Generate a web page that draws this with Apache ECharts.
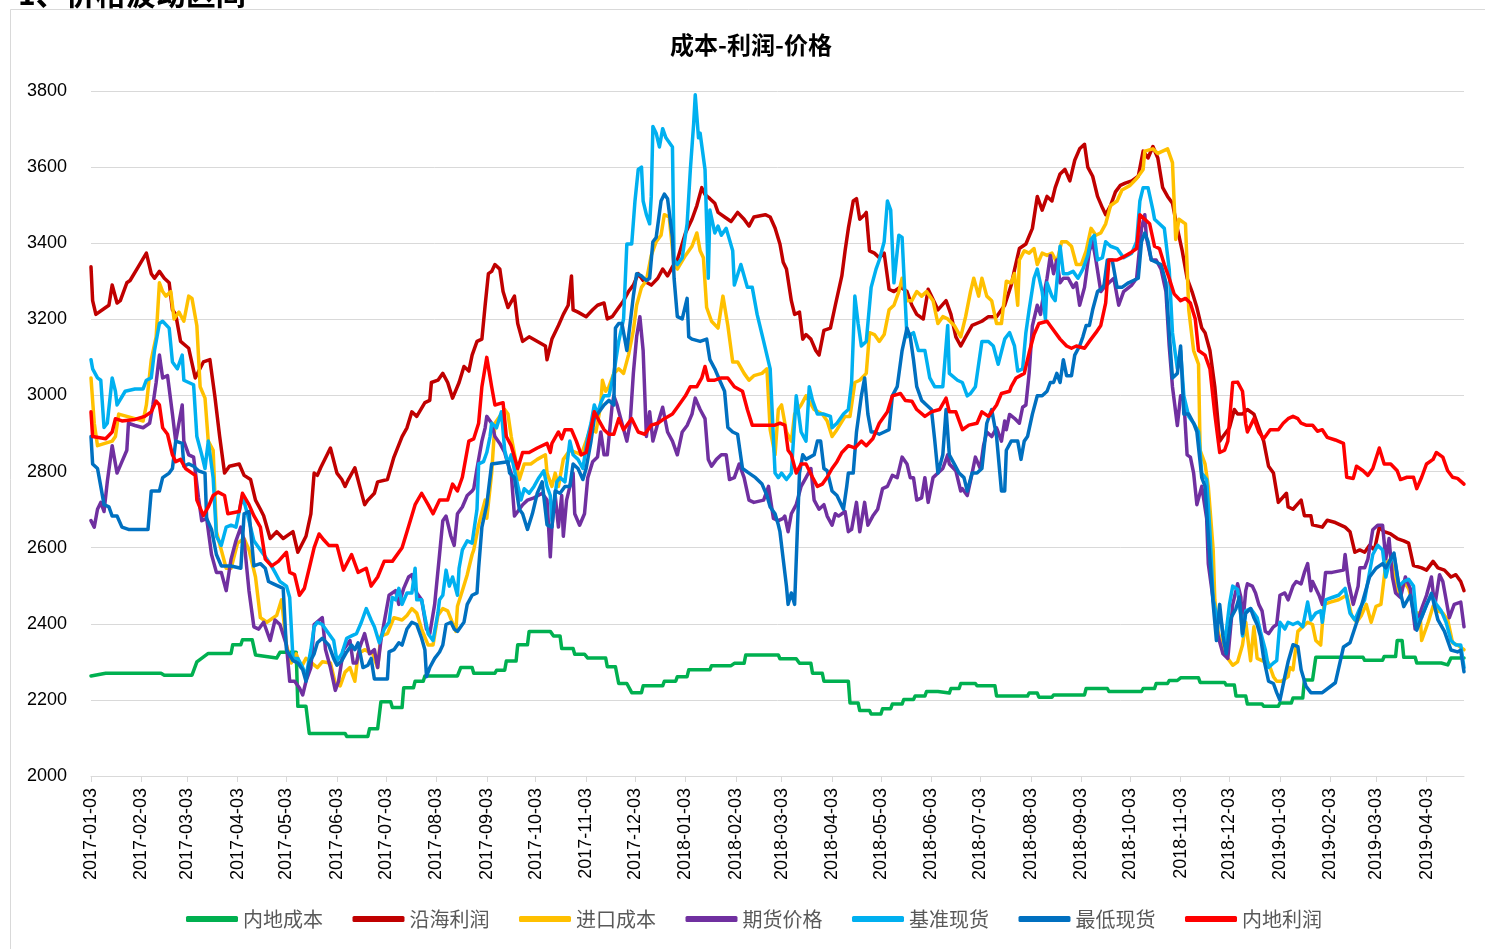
<!DOCTYPE html>
<html><head><meta charset="utf-8">
<script src="https://cdn.jsdelivr.net/npm/echarts@6/dist/echarts.min.js"></script>
<style>html,body{margin:0;padding:0;background:#fff}#c{width:1485px;height:949px}</style>
</head><body><div id="c"></div>
<script>
const seriesNames = ['内地成本','沿海利润','进口成本','期货价格','基准现货','最低现货','内地利润'];
const seriesColors = ['#00B050','#C00000','#FFC000','#7030A0','#00B0F0','#0070C0','#FF0000'];
const firstDay = '2017-01-03', lastDay = '2019-04-26';
const yTicks = {min: 2000, max: 3800, step: 200};

const inlandCost = [['2017-01-03',2263],['2017-01-12',2270],['2017-02-15',2270],['2017-02-17',2265],['2017-03-06',2265],['2017-03-09',2300],['2017-03-16',2322],['2017-03-30',2322],['2017-03-31',2345],['2017-04-05',2345],['2017-04-06',2358],['2017-04-12',2358],['2017-04-14',2318],['2017-04-27',2310],['2017-04-29',2325],['2017-05-09',2325],['2017-05-10',2183],['2017-05-15',2183],['2017-05-17',2112],['2017-06-08',2112],['2017-06-09',2104],['2017-06-22',2104],['2017-06-23',2124],['2017-06-28',2124],['2017-06-30',2195],['2017-07-06',2195],['2017-07-07',2180],['2017-07-13',2180],['2017-07-14',2232],['2017-07-20',2232],['2017-07-21',2249],['2017-07-26',2249],['2017-07-27',2263],['2017-08-16',2263],['2017-08-18',2285],['2017-08-25',2285],['2017-08-26',2270],['2017-09-08',2270],['2017-09-09',2278],['2017-09-14',2278],['2017-09-15',2302],['2017-09-21',2302],['2017-09-22',2345],['2017-09-28',2345],['2017-09-29',2380],['2017-10-12',2380],['2017-10-14',2368],['2017-10-18',2368],['2017-10-19',2335],['2017-10-26',2335],['2017-10-27',2320],['2017-11-02',2320],['2017-11-04',2310],['2017-11-15',2310],['2017-11-16',2287],['2017-11-21',2287],['2017-11-23',2243],['2017-11-28',2243],['2017-12-01',2219],['2017-12-07',2219],['2017-12-08',2237],['2017-12-20',2237],['2017-12-21',2249],['2017-12-28',2249],['2017-12-29',2261],['2018-01-04',2261],['2018-01-05',2279],['2018-01-18',2279],['2018-01-19',2290],['2018-01-31',2290],['2018-02-02',2296],['2018-02-08',2296],['2018-02-09',2318],['2018-03-01',2318],['2018-03-02',2308],['2018-03-12',2308],['2018-03-14',2296],['2018-03-21',2296],['2018-03-22',2270],['2018-03-28',2270],['2018-03-29',2249],['2018-04-13',2249],['2018-04-14',2192],['2018-04-19',2192],['2018-04-20',2172],['2018-04-26',2172],['2018-04-27',2163],['2018-05-03',2163],['2018-05-04',2177],['2018-05-09',2177],['2018-05-10',2189],['2018-05-16',2189],['2018-05-17',2201],['2018-05-23',2201],['2018-05-24',2210],['2018-05-30',2210],['2018-05-31',2222],['2018-06-07',2222],['2018-06-08',2218],['2018-06-14',2218],['2018-06-15',2230],['2018-06-20',2230],['2018-06-21',2243],['2018-06-30',2243],['2018-07-01',2237],['2018-07-12',2237],['2018-07-13',2210],['2018-08-01',2210],['2018-08-02',2218],['2018-08-07',2218],['2018-08-08',2207],['2018-08-16',2207],['2018-08-17',2213],['2018-09-05',2213],['2018-09-06',2230],['2018-09-19',2230],['2018-09-20',2222],['2018-10-10',2222],['2018-10-11',2230],['2018-10-18',2230],['2018-10-19',2243],['2018-10-26',2243],['2018-10-27',2251],['2018-11-01',2251],['2018-11-03',2258],['2018-11-14',2258],['2018-11-15',2246],['2018-11-30',2246],['2018-12-01',2239],['2018-12-06',2239],['2018-12-07',2210],['2018-12-13',2210],['2018-12-14',2189],['2018-12-23',2189],['2018-12-24',2183],['2019-01-02',2183],['2019-01-03',2192],['2019-01-10',2192],['2019-01-11',2205],['2019-01-17',2205],['2019-01-18',2252],['2019-01-23',2252],['2019-01-25',2312],['2019-02-23',2312],['2019-02-24',2304],['2019-03-07',2304],['2019-03-08',2314],['2019-03-15',2314],['2019-03-16',2356],['2019-03-19',2356],['2019-03-20',2312],['2019-03-27',2312],['2019-03-28',2297],['2019-04-12',2297],['2019-04-13',2292],['2019-04-16',2292],['2019-04-18',2310],['2019-04-26',2310]];

const coastalProfit = [['2017-01-03',3338],['2017-01-04',3249],['2017-01-06',3213],['2017-01-12',3231],['2017-01-14',3237],['2017-01-16',3290],['2017-01-19',3243],['2017-01-21',3249],['2017-01-25',3296],['2017-01-27',3302],['2017-02-01',3338],['2017-02-06',3374],['2017-02-09',3320],['2017-02-11',3308],['2017-02-14',3326],['2017-02-17',3308],['2017-02-20',3296],['2017-02-22',3225],['2017-02-24',3213],['2017-02-27',3142],['2017-03-04',3124],['2017-03-08',3046],['2017-03-13',3088],['2017-03-17',3094],['2017-03-20',2999],['2017-03-23',2892],['2017-03-26',2796],['2017-03-29',2814],['2017-04-04',2820],['2017-04-07',2790],['2017-04-11',2779],['2017-04-14',2725],['2017-04-17',2701],['2017-04-19',2684],['2017-04-23',2624],['2017-04-27',2642],['2017-05-01',2624],['2017-05-07',2642],['2017-05-10',2588],['2017-05-15',2630],['2017-05-18',2689],['2017-05-20',2796],['2017-05-22',2790],['2017-05-24',2810],['2017-05-30',2862],['2017-06-03',2796],['2017-06-06',2779],['2017-06-08',2761],['2017-06-10',2779],['2017-06-14',2810],['2017-06-17',2761],['2017-06-20',2713],['2017-06-22',2725],['2017-06-26',2743],['2017-06-28',2773],['2017-07-04',2779],['2017-07-08',2838],['2017-07-13',2892],['2017-07-16',2915],['2017-07-19',2957],['2017-07-22',2945],['2017-07-27',2981],['2017-07-30',2987],['2017-07-31',3034],['2017-08-04',3040],['2017-08-07',3058],['2017-08-10',3034],['2017-08-13',2993],['2017-08-17',3034],['2017-08-20',3076],['2017-08-23',3064],['2017-08-25',3106],['2017-08-28',3142],['2017-08-31',3148],['2017-09-02',3237],['2017-09-04',3320],['2017-09-06',3326],['2017-09-08',3344],['2017-09-11',3332],['2017-09-13',3273],['2017-09-16',3231],['2017-09-20',3261],['2017-09-22',3189],['2017-09-25',3142],['2017-09-29',3154],['2017-10-09',3130],['2017-10-10',3094],['2017-10-13',3148],['2017-10-17',3184],['2017-10-20',3213],['2017-10-23',3237],['2017-10-25',3314],['2017-10-26',3225],['2017-10-29',3219],['2017-11-03',3207],['2017-11-07',3225],['2017-11-10',3237],['2017-11-14',3243],['2017-11-16',3201],['2017-11-19',3207],['2017-11-23',3231],['2017-11-26',3249],['2017-11-29',3273],['2017-12-02',3290],['2017-12-05',3320],['2017-12-08',3302],['2017-12-13',3290],['2017-12-17',3308],['2017-12-20',3332],['2017-12-23',3314],['2017-12-26',3338],['2017-12-29',3356],['2018-01-03',3427],['2018-01-07',3463],['2018-01-10',3499],['2018-01-13',3546],['2018-01-15',3528],['2018-01-18',3517],['2018-01-21',3505],['2018-01-23',3481],['2018-01-27',3469],['2018-01-31',3457],['2018-02-04',3481],['2018-02-08',3463],['2018-02-11',3445],['2018-02-14',3469],['2018-02-21',3475],['2018-02-24',3469],['2018-02-27',3440],['2018-03-02',3398],['2018-03-04',3350],['2018-03-06',3332],['2018-03-09',3249],['2018-03-11',3213],['2018-03-14',3219],['2018-03-16',3148],['2018-03-18',3160],['2018-03-21',3148],['2018-03-24',3118],['2018-03-26',3106],['2018-03-29',3171],['2018-04-02',3177],['2018-04-05',3237],['2018-04-09',3314],['2018-04-11',3380],['2018-04-13',3439],['2018-04-16',3511],['2018-04-18',3517],['2018-04-20',3463],['2018-04-23',3475],['2018-04-24',3481],['2018-04-26',3380],['2018-04-29',3374],['2018-05-02',3362],['2018-05-05',3374],['2018-05-08',3279],['2018-05-11',3273],['2018-05-15',3285],['2018-05-19',3273],['2018-05-22',3237],['2018-05-25',3213],['2018-05-29',3201],['2018-06-01',3279],['2018-06-03',3261],['2018-06-07',3225],['2018-06-12',3249],['2018-06-15',3213],['2018-06-18',3154],['2018-06-21',3130],['2018-06-24',3154],['2018-06-28',3184],['2018-07-04',3195],['2018-07-08',3207],['2018-07-13',3207],['2018-07-18',3237],['2018-07-22',3290],['2018-07-24',3330],['2018-07-27',3386],['2018-07-31',3398],['2018-08-04',3439],['2018-08-07',3523],['2018-08-10',3487],['2018-08-13',3523],['2018-08-16',3511],['2018-08-18',3546],['2018-08-21',3582],['2018-08-24',3594],['2018-08-27',3564],['2018-08-30',3618],['2018-09-02',3648],['2018-09-05',3660],['2018-09-07',3600],['2018-09-10',3576],['2018-09-13',3523],['2018-09-16',3493],['2018-09-18',3475],['2018-09-21',3499],['2018-09-24',3535],['2018-09-27',3552],['2018-09-30',3558],['2018-10-04',3564],['2018-10-08',3576],['2018-10-11',3642],['2018-10-14',3624],['2018-10-17',3654],['2018-10-20',3624],['2018-10-23',3546],['2018-10-26',3523],['2018-10-29',3505],['2018-11-01',3439],['2018-11-04',3380],['2018-11-07',3308],['2018-11-10',3273],['2018-11-13',3231],['2018-11-16',3177],['2018-11-18',3165],['2018-11-21',3118],['2018-11-24',3023],['2018-11-27',2880],['2018-11-29',2892],['2018-12-03',2915],['2018-12-06',2963],['2018-12-08',2951],['2018-12-11',2951],['2018-12-14',2963],['2018-12-18',2951],['2018-12-21',2915],['2018-12-24',2880],['2018-12-27',2814],['2018-12-30',2796],['2019-01-02',2719],['2019-01-07',2743],['2019-01-08',2707],['2019-01-11',2701],['2019-01-16',2725],['2019-01-18',2684],['2019-01-22',2684],['2019-01-23',2660],['2019-01-29',2654],['2019-02-01',2672],['2019-02-06',2666],['2019-02-12',2654],['2019-02-15',2642],['2019-02-18',2588],['2019-02-21',2594],['2019-02-24',2588],['2019-02-27',2606],['2019-03-02',2594],['2019-03-05',2654],['2019-03-08',2642],['2019-03-12',2636],['2019-03-16',2624],['2019-03-20',2618],['2019-03-23',2612],['2019-03-26',2553],['2019-03-31',2547],['2019-04-03',2541],['2019-04-07',2564],['2019-04-10',2547],['2019-04-14',2541],['2019-04-18',2523],['2019-04-21',2529],['2019-04-24',2511],['2019-04-26',2487]];

const importCost = [['2017-01-03',3046],['2017-01-05',2927],['2017-01-07',2868],['2017-01-16',2880],['2017-01-18',2892],['2017-01-20',2951],['2017-01-30',2939],['2017-02-04',2933],['2017-02-06',2975],['2017-02-09',3094],['2017-02-12',3154],['2017-02-14',3296],['2017-02-16',3273],['2017-02-18',3261],['2017-02-21',3273],['2017-02-23',3201],['2017-02-26',3219],['2017-03-01',3195],['2017-03-04',3261],['2017-03-06',3255],['2017-03-09',3183],['2017-03-11',3023],['2017-03-14',2993],['2017-03-16',2880],['2017-03-19',2856],['2017-03-21',2642],['2017-03-24',2594],['2017-03-27',2546],['2017-03-30',2546],['2017-04-03',2612],['2017-04-07',2624],['2017-04-10',2594],['2017-04-14',2523],['2017-04-17',2416],['2017-04-21',2404],['2017-04-27',2422],['2017-04-30',2463],['2017-05-03',2344],['2017-05-06',2297],['2017-05-09',2321],['2017-05-12',2285],['2017-05-15',2309],['2017-05-22',2285],['2017-05-25',2300],['2017-05-30',2297],['2017-06-02',2243],['2017-06-05',2237],['2017-06-08',2273],['2017-06-11',2285],['2017-06-14',2249],['2017-06-16',2321],['2017-06-20',2332],['2017-06-25',2321],['2017-06-28',2285],['2017-06-30',2368],['2017-07-04',2374],['2017-07-08',2416],['2017-07-13',2410],['2017-07-16',2422],['2017-07-19',2440],['2017-07-22',2428],['2017-07-25',2386],['2017-07-29',2344],['2017-08-01',2344],['2017-08-04',2422],['2017-08-07',2440],['2017-08-10',2434],['2017-08-15',2380],['2017-08-16',2446],['2017-08-19',2487],['2017-08-22',2529],['2017-08-25',2582],['2017-08-26',2594],['2017-08-29',2660],['2017-09-02',2725],['2017-09-03',2677],['2017-09-06',2796],['2017-09-08',2927],['2017-09-11',2945],['2017-09-14',2963],['2017-09-16',2951],['2017-09-18',2892],['2017-09-23',2779],['2017-09-26',2820],['2017-09-30',2820],['2017-10-04',2832],['2017-10-09',2844],['2017-10-10',2796],['2017-10-13',2761],['2017-10-15',2796],['2017-10-17',2761],['2017-10-20',2832],['2017-10-24',2856],['2017-10-28',2850],['2017-10-31',2844],['2017-11-03',2880],['2017-11-06',2916],['2017-11-09',2904],['2017-11-12',2975],['2017-11-13',3040],['2017-11-15',3011],['2017-11-17',3023],['2017-11-20',3058],['2017-11-23',3070],['2017-11-26',3058],['2017-11-29',3106],['2017-12-02',3171],['2017-12-04',3237],['2017-12-07',3284],['2017-12-10',3302],['2017-12-13',3368],['2017-12-16',3404],['2017-12-19',3421],['2017-12-21',3475],['2017-12-24',3469],['2017-12-27',3344],['2017-12-29',3332],['2018-01-03',3368],['2018-01-07',3392],['2018-01-10',3427],['2018-01-12',3380],['2018-01-14',3362],['2018-01-16',3231],['2018-01-19',3195],['2018-01-23',3177],['2018-01-26',3261],['2018-01-29',3184],['2018-02-01',3088],['2018-02-04',3088],['2018-02-08',3058],['2018-02-11',3040],['2018-02-14',3052],['2018-02-19',3058],['2018-02-22',3070],['2018-02-24',2910],['2018-02-27',2844],['2018-03-01',2963],['2018-03-03',2975],['2018-03-06',2904],['2018-03-09',2880],['2018-03-11',2951],['2018-03-15',2975],['2018-03-18',2999],['2018-03-23',2963],['2018-03-28',2951],['2018-03-31',2933],['2018-04-03',2892],['2018-04-06',2910],['2018-04-11',2945],['2018-04-14',2945],['2018-04-17',3034],['2018-04-20',3040],['2018-04-24',3058],['2018-04-26',3165],['2018-04-29',3160],['2018-05-02',3142],['2018-05-05',3160],['2018-05-08',3225],['2018-05-11',3237],['2018-05-14',3273],['2018-05-16',3308],['2018-05-19',3249],['2018-05-22',3249],['2018-05-25',3273],['2018-05-28',3261],['2018-05-31',3273],['2018-06-04',3249],['2018-06-07',3189],['2018-06-10',3207],['2018-06-13',3201],['2018-06-17',3184],['2018-06-21',3154],['2018-06-24',3207],['2018-06-27',3273],['2018-06-29',3308],['2018-07-02',3261],['2018-07-04',3308],['2018-07-07',3261],['2018-07-10',3249],['2018-07-13',3189],['2018-07-16',3189],['2018-07-19',3300],['2018-07-22',3296],['2018-07-24',3320],['2018-07-26',3237],['2018-07-27',3356],['2018-07-30',3380],['2018-08-02',3374],['2018-08-05',3386],['2018-08-07',3344],['2018-08-10',3374],['2018-08-13',3368],['2018-08-16',3374],['2018-08-19',3350],['2018-08-22',3404],['2018-08-25',3404],['2018-08-28',3392],['2018-08-31',3344],['2018-09-03',3344],['2018-09-06',3380],['2018-09-09',3439],['2018-09-12',3421],['2018-09-15',3427],['2018-09-18',3451],['2018-09-21',3499],['2018-09-25',3511],['2018-09-28',3540],['2018-10-03',3552],['2018-10-07',3570],['2018-10-11',3594],['2018-10-12',3642],['2018-10-17',3648],['2018-10-20',3636],['2018-10-23',3642],['2018-10-26',3648],['2018-10-29',3612],['2018-10-31',3410],['2018-11-02',3463],['2018-11-06',3451],['2018-11-08',3225],['2018-11-11',3118],['2018-11-14',3082],['2018-11-15',2856],['2018-11-18',2820],['2018-11-20',2761],['2018-11-23',2594],['2018-11-24',2463],['2018-11-26',2380],['2018-11-29',2332],['2018-12-02',2309],['2018-12-05',2291],['2018-12-08',2300],['2018-12-11',2344],['2018-12-13',2404],['2018-12-16',2303],['2018-12-18',2392],['2018-12-20',2309],['2018-12-23',2303],['2018-12-27',2297],['2018-12-30',2261],['2019-01-01',2249],['2019-01-04',2249],['2019-01-08',2261],['2019-01-09',2285],['2019-01-11',2279],['2019-01-14',2380],['2019-01-17',2392],['2019-01-20',2404],['2019-01-23',2398],['2019-01-25',2356],['2019-01-28',2344],['2019-01-30',2451],['2019-02-03',2457],['2019-02-08',2463],['2019-02-13',2475],['2019-02-16',2422],['2019-02-19',2404],['2019-02-22',2422],['2019-02-25',2451],['2019-02-28',2404],['2019-03-03',2446],['2019-03-06',2451],['2019-03-09',2558],['2019-03-12',2570],['2019-03-14',2535],['2019-03-17',2475],['2019-03-20',2511],['2019-03-23',2493],['2019-03-27',2428],['2019-03-30',2428],['2019-03-31',2356],['2019-04-04',2404],['2019-04-07',2446],['2019-04-10',2434],['2019-04-13',2428],['2019-04-16',2410],['2019-04-19',2350],['2019-04-22',2344],['2019-04-26',2332]];

const futuresPrice = [['2017-01-03',2671],['2017-01-05',2654],['2017-01-07',2701],['2017-01-09',2719],['2017-01-11',2695],['2017-01-13',2773],['2017-01-16',2868],['2017-01-19',2796],['2017-01-22',2826],['2017-01-25',2856],['2017-01-26',2927],['2017-01-30',2921],['2017-02-04',2915],['2017-02-08',2927],['2017-02-10',2975],['2017-02-12',3034],['2017-02-14',3106],['2017-02-16',3046],['2017-02-19',3052],['2017-02-22',2951],['2017-02-24',2880],['2017-02-28',2975],['2017-03-01',2880],['2017-03-04',2844],['2017-03-07',2838],['2017-03-10',2731],['2017-03-12',2671],['2017-03-15',2677],['2017-03-18',2582],['2017-03-21',2535],['2017-03-24',2535],['2017-03-27',2487],['2017-03-30',2570],['2017-04-02',2618],['2017-04-05',2654],['2017-04-07',2618],['2017-04-10',2487],['2017-04-13',2392],['2017-04-16',2386],['2017-04-19',2404],['2017-04-23',2356],['2017-04-26',2410],['2017-04-29',2398],['2017-05-03',2344],['2017-05-05',2249],['2017-05-08',2249],['2017-05-11',2231],['2017-05-13',2213],['2017-05-15',2249],['2017-05-18',2285],['2017-05-20',2398],['2017-05-25',2416],['2017-05-27',2332],['2017-05-30',2285],['2017-06-02',2225],['2017-06-04',2249],['2017-06-07',2332],['2017-06-11',2356],['2017-06-13',2297],['2017-06-15',2297],['2017-06-17',2338],['2017-06-20',2374],['2017-06-23',2321],['2017-06-26',2332],['2017-06-28',2285],['2017-06-30',2356],['2017-07-02',2404],['2017-07-05',2475],['2017-07-09',2487],['2017-07-11',2451],['2017-07-14',2493],['2017-07-17',2523],['2017-07-19',2529],['2017-07-22',2481],['2017-07-25',2463],['2017-07-28',2386],['2017-07-30',2374],['2017-08-02',2451],['2017-08-05',2582],['2017-08-07',2671],['2017-08-09',2683],['2017-08-12',2630],['2017-08-14',2606],['2017-08-16',2689],['2017-08-19',2707],['2017-08-22',2737],['2017-08-25',2749],['2017-08-26',2755],['2017-08-28',2808],['2017-08-31',2880],['2017-09-02',2915],['2017-09-03',2945],['2017-09-06',2927],['2017-09-08',2892],['2017-09-11',2874],['2017-09-14',2850],['2017-09-16',2820],['2017-09-18',2796],['2017-09-20',2683],['2017-09-23',2701],['2017-09-25',2713],['2017-09-28',2725],['2017-10-02',2731],['2017-10-07',2743],['2017-10-10',2725],['2017-10-12',2576],['2017-10-13',2654],['2017-10-15',2737],['2017-10-17',2654],['2017-10-19',2737],['2017-10-20',2630],['2017-10-22',2725],['2017-10-26',2796],['2017-10-27',2689],['2017-10-30',2659],['2017-11-02',2689],['2017-11-04',2784],['2017-11-07',2826],['2017-11-10',2838],['2017-11-12',2904],['2017-11-14',2844],['2017-11-16',2844],['2017-11-19',2975],['2017-11-20',2999],['2017-11-22',2975],['2017-11-25',2927],['2017-11-28',2880],['2017-11-30',2927],['2017-12-02',3058],['2017-12-04',3154],['2017-12-06',3207],['2017-12-08',3118],['2017-12-10',2892],['2017-12-12',2957],['2017-12-14',2880],['2017-12-17',2927],['2017-12-20',2969],['2017-12-23',2904],['2017-12-26',2880],['2017-12-29',2844],['2018-01-01',2904],['2018-01-04',2921],['2018-01-07',2951],['2018-01-09',2993],['2018-01-12',2963],['2018-01-15',2939],['2018-01-17',2832],['2018-01-19',2814],['2018-01-22',2832],['2018-01-25',2844],['2018-01-28',2844],['2018-01-30',2779],['2018-02-02',2784],['2018-02-05',2820],['2018-02-08',2784],['2018-02-11',2725],['2018-02-14',2719],['2018-02-20',2725],['2018-02-23',2761],['2018-02-26',2677],['2018-03-01',2671],['2018-03-04',2677],['2018-03-05',2683],['2018-03-07',2642],['2018-03-09',2689],['2018-03-12',2713],['2018-03-15',2761],['2018-03-18',2784],['2018-03-21',2808],['2018-03-23',2725],['2018-03-26',2701],['2018-03-29',2713],['2018-03-31',2683],['2018-04-03',2659],['2018-04-05',2689],['2018-04-07',2683],['2018-04-11',2695],['2018-04-13',2642],['2018-04-15',2648],['2018-04-18',2719],['2018-04-20',2642],['2018-04-23',2719],['2018-04-25',2659],['2018-04-28',2683],['2018-05-01',2701],['2018-05-04',2755],['2018-05-07',2761],['2018-05-10',2790],['2018-05-13',2784],['2018-05-16',2838],['2018-05-19',2820],['2018-05-21',2784],['2018-05-23',2784],['2018-05-25',2725],['2018-05-28',2731],['2018-05-30',2784],['2018-06-01',2719],['2018-06-04',2784],['2018-06-07',2796],['2018-06-10',2808],['2018-06-13',2844],['2018-06-14',2820],['2018-06-18',2802],['2018-06-21',2749],['2018-06-22',2755],['2018-06-25',2737],['2018-06-28',2796],['2018-06-30',2838],['2018-07-03',2808],['2018-07-05',2868],['2018-07-07',2904],['2018-07-10',2892],['2018-07-13',2915],['2018-07-16',2880],['2018-07-18',2933],['2018-07-19',2910],['2018-07-21',2950],['2018-07-24',2940],['2018-07-27',2927],['2018-07-29',2969],['2018-07-31',2975],['2018-08-02',3058],['2018-08-04',3183],['2018-08-07',3237],['2018-08-09',3213],['2018-08-10',3243],['2018-08-13',3308],['2018-08-15',3368],['2018-08-17',3320],['2018-08-19',3356],['2018-08-21',3296],['2018-08-23',3308],['2018-08-26',3308],['2018-08-29',3284],['2018-08-31',3296],['2018-09-02',3237],['2018-09-05',3284],['2018-09-08',3380],['2018-09-10',3404],['2018-09-12',3356],['2018-09-15',3273],['2018-09-17',3284],['2018-09-20',3296],['2018-09-23',3308],['2018-09-26',3237],['2018-09-29',3273],['2018-10-04',3290],['2018-10-07',3308],['2018-10-10',3439],['2018-10-12',3475],['2018-10-13',3415],['2018-10-16',3356],['2018-10-19',3356],['2018-10-22',3332],['2018-10-25',3273],['2018-10-27',3130],['2018-10-29',3023],['2018-11-01',2921],['2018-11-03',2999],['2018-11-05',2987],['2018-11-07',2844],['2018-11-09',2838],['2018-11-11',2796],['2018-11-13',2713],['2018-11-16',2761],['2018-11-19',2677],['2018-11-20',2558],['2018-11-23',2463],['2018-11-26',2368],['2018-11-29',2321],['2018-12-02',2309],['2018-12-05',2451],['2018-12-08',2505],['2018-12-10',2470],['2018-12-11',2392],['2018-12-13',2487],['2018-12-14',2505],['2018-12-17',2499],['2018-12-19',2481],['2018-12-21',2451],['2018-12-23',2434],['2018-12-25',2380],['2018-12-27',2374],['2018-12-30',2392],['2019-01-01',2398],['2019-01-03',2475],['2019-01-06',2481],['2019-01-08',2463],['2019-01-11',2499],['2019-01-13',2511],['2019-01-16',2505],['2019-01-18',2535],['2019-01-20',2558],['2019-01-22',2487],['2019-01-23',2511],['2019-01-27',2475],['2019-01-29',2451],['2019-01-31',2535],['2019-02-04',2535],['2019-02-11',2541],['2019-02-12',2582],['2019-02-14',2511],['2019-02-17',2451],['2019-02-20',2499],['2019-02-21',2547],['2019-02-24',2547],['2019-02-26',2570],['2019-03-01',2647],['2019-03-04',2659],['2019-03-07',2659],['2019-03-09',2570],['2019-03-11',2624],['2019-03-13',2523],['2019-03-15',2481],['2019-03-18',2469],['2019-03-21',2523],['2019-03-24',2493],['2019-03-27',2386],['2019-03-31',2440],['2019-04-03',2475],['2019-04-06',2523],['2019-04-08',2445],['2019-04-11',2529],['2019-04-13',2511],['2019-04-17',2416],['2019-04-20',2451],['2019-04-24',2457],['2019-04-26',2392]];

const benchmarkSpot = [['2017-01-03',3094],['2017-01-04',3070],['2017-01-07',3046],['2017-01-09',3040],['2017-01-11',2916],['2017-01-13',2927],['2017-01-16',3046],['2017-01-18',3011],['2017-01-19',2975],['2017-01-24',3011],['2017-01-30',3017],['2017-02-04',3017],['2017-02-06',3040],['2017-02-09',3046],['2017-02-11',3118],['2017-02-14',3189],['2017-02-16',3195],['2017-02-20',3177],['2017-02-22',3088],['2017-02-25',3070],['2017-02-28',3106],['2017-03-01',3040],['2017-03-04',3034],['2017-03-07',3028],['2017-03-09',2892],['2017-03-12',2844],['2017-03-14',2808],['2017-03-16',2880],['2017-03-19',2784],['2017-03-21',2630],['2017-03-24',2606],['2017-03-27',2654],['2017-03-30',2659],['2017-04-02',2654],['2017-04-06',2737],['2017-04-09',2689],['2017-04-13',2618],['2017-04-17',2594],['2017-04-20',2576],['2017-04-23',2558],['2017-04-26',2535],['2017-04-29',2511],['2017-05-03',2499],['2017-05-05',2469],['2017-05-07',2309],['2017-05-10',2309],['2017-05-13',2285],['2017-05-15',2261],['2017-05-18',2332],['2017-05-20',2392],['2017-05-22',2404],['2017-05-25',2398],['2017-05-29',2374],['2017-06-01',2356],['2017-06-03',2303],['2017-06-06',2321],['2017-06-09',2362],['2017-06-12',2368],['2017-06-15',2374],['2017-06-18',2404],['2017-06-21',2440],['2017-06-24',2410],['2017-06-26',2392],['2017-06-29',2350],['2017-07-02',2386],['2017-07-05',2404],['2017-07-07',2469],['2017-07-09',2463],['2017-07-11',2493],['2017-07-13',2451],['2017-07-16',2481],['2017-07-19',2481],['2017-07-21',2546],['2017-07-22',2463],['2017-07-25',2463],['2017-07-29',2374],['2017-08-01',2356],['2017-08-04',2428],['2017-08-05',2463],['2017-08-07',2475],['2017-08-09',2541],['2017-08-11',2499],['2017-08-13',2523],['2017-08-16',2475],['2017-08-17',2546],['2017-08-19',2594],['2017-08-22',2618],['2017-08-25',2612],['2017-08-28',2701],['2017-08-29',2820],['2017-09-01',2826],['2017-09-03',2850],['2017-09-05',2892],['2017-09-06',2927],['2017-09-09',2915],['2017-09-12',2957],['2017-09-14',2856],['2017-09-16',2820],['2017-09-18',2844],['2017-09-21',2784],['2017-09-24',2725],['2017-09-26',2755],['2017-09-29',2743],['2017-10-02',2761],['2017-10-05',2784],['2017-10-08',2802],['2017-10-10',2761],['2017-10-12',2737],['2017-10-13',2671],['2017-10-16',2773],['2017-10-18',2784],['2017-10-21',2773],['2017-10-24',2880],['2017-10-26',2844],['2017-10-29',2832],['2017-11-01',2808],['2017-11-04',2892],['2017-11-06',2927],['2017-11-08',2975],['2017-11-10',2951],['2017-11-12',2981],['2017-11-14',2999],['2017-11-17',2999],['2017-11-20',3058],['2017-11-23',3142],['2017-11-26',3201],['2017-11-28',3398],['2017-12-01',3398],['2017-12-03',3511],['2017-12-05',3594],['2017-12-07',3600],['2017-12-08',3511],['2017-12-10',3475],['2017-12-12',3451],['2017-12-13',3523],['2017-12-14',3707],['2017-12-16',3689],['2017-12-18',3653],['2017-12-20',3701],['2017-12-22',3677],['2017-12-26',3653],['2017-12-27',3356],['2017-12-29',3344],['2018-01-01',3362],['2018-01-04',3451],['2018-01-06',3594],['2018-01-08',3713],['2018-01-09',3790],['2018-01-11',3677],['2018-01-12',3689],['2018-01-15',3594],['2018-01-17',3308],['2018-01-18',3487],['2018-01-21',3427],['2018-01-23',3445],['2018-01-25',3421],['2018-01-28',3439],['2018-02-01',3380],['2018-02-02',3290],['2018-02-06',3344],['2018-02-10',3284],['2018-02-13',3284],['2018-02-16',3213],['2018-02-20',3142],['2018-02-24',3070],['2018-02-27',2796],['2018-03-01',2784],['2018-03-03',2796],['2018-03-06',2779],['2018-03-09',2796],['2018-03-12',2999],['2018-03-15',2904],['2018-03-18',2880],['2018-03-20',3023],['2018-03-22',2987],['2018-03-25',2951],['2018-03-29',2951],['2018-04-02',2945],['2018-04-03',2915],['2018-04-06',2927],['2018-04-10',2951],['2018-04-13',2963],['2018-04-15',3034],['2018-04-17',3261],['2018-04-19',3189],['2018-04-21',3130],['2018-04-24',3142],['2018-04-27',3284],['2018-04-30',3332],['2018-05-02',3356],['2018-05-05',3404],['2018-05-07',3511],['2018-05-09',3487],['2018-05-11',3296],['2018-05-14',3421],['2018-05-16',3415],['2018-05-19',3154],['2018-05-23',3165],['2018-05-26',3118],['2018-05-30',3118],['2018-06-02',3046],['2018-06-05',3023],['2018-06-10',3023],['2018-06-13',3184],['2018-06-14',3058],['2018-06-19',3040],['2018-06-22',3034],['2018-06-25',2999],['2018-06-27',3005],['2018-06-30',3023],['2018-07-04',3142],['2018-07-08',3142],['2018-07-11',3130],['2018-07-14',3082],['2018-07-18',3148],['2018-07-19',3154],['2018-07-21',3165],['2018-07-22',3160],['2018-07-24',3130],['2018-07-26',3064],['2018-07-29',3070],['2018-07-31',3165],['2018-08-02',3225],['2018-08-05',3308],['2018-08-07',3332],['2018-08-10',3273],['2018-08-12',3201],['2018-08-13',3296],['2018-08-16',3261],['2018-08-18',3249],['2018-08-21',3392],['2018-08-23',3320],['2018-08-26',3320],['2018-08-29',3326],['2018-09-01',3308],['2018-09-04',3332],['2018-09-07',3368],['2018-09-09',3410],['2018-09-11',3421],['2018-09-13',3356],['2018-09-16',3362],['2018-09-18',3404],['2018-09-21',3392],['2018-09-25',3386],['2018-09-29',3362],['2018-10-04',3374],['2018-10-07',3404],['2018-10-09',3511],['2018-10-11',3546],['2018-10-14',3546],['2018-10-17',3487],['2018-10-18',3463],['2018-10-21',3451],['2018-10-24',3439],['2018-10-27',3332],['2018-10-29',3165],['2018-11-01',3070],['2018-11-03',3118],['2018-11-05',2999],['2018-11-08',2945],['2018-11-11',2927],['2018-11-14',2904],['2018-11-16',2796],['2018-11-19',2779],['2018-11-21',2642],['2018-11-23',2463],['2018-11-26',2404],['2018-11-28',2404],['2018-11-30',2344],['2018-12-03',2451],['2018-12-05',2499],['2018-12-08',2490],['2018-12-10',2420],['2018-12-11',2368],['2018-12-13',2434],['2018-12-16',2440],['2018-12-18',2428],['2018-12-20',2416],['2018-12-22',2380],['2018-12-25',2332],['2018-12-27',2285],['2018-12-30',2297],['2019-01-01',2303],['2019-01-03',2404],['2019-01-06',2386],['2019-01-08',2404],['2019-01-11',2398],['2019-01-14',2404],['2019-01-17',2392],['2019-01-20',2457],['2019-01-22',2410],['2019-01-25',2428],['2019-01-28',2434],['2019-01-29',2404],['2019-01-31',2463],['2019-02-04',2469],['2019-02-08',2475],['2019-02-12',2493],['2019-02-15',2428],['2019-02-18',2410],['2019-02-21',2440],['2019-02-24',2463],['2019-02-26',2511],['2019-03-01',2582],['2019-03-04',2606],['2019-03-07',2594],['2019-03-09',2523],['2019-03-11',2558],['2019-03-14',2582],['2019-03-17',2499],['2019-03-20',2511],['2019-03-23',2517],['2019-03-26',2499],['2019-03-28',2404],['2019-03-31',2416],['2019-04-03',2451],['2019-04-06',2475],['2019-04-09',2451],['2019-04-12',2434],['2019-04-15',2404],['2019-04-18',2356],['2019-04-21',2344],['2019-04-24',2344],['2019-04-26',2285]];

const lowestSpot = [['2017-01-03',2892],['2017-01-04',2820],['2017-01-07',2808],['2017-01-09',2761],['2017-01-11',2713],['2017-01-14',2707],['2017-01-16',2683],['2017-01-19',2683],['2017-01-22',2654],['2017-01-26',2648],['2017-02-07',2648],['2017-02-09',2749],['2017-02-14',2749],['2017-02-16',2784],['2017-02-20',2796],['2017-02-22',2808],['2017-02-24',2880],['2017-02-28',2874],['2017-03-01',2814],['2017-03-04',2820],['2017-03-07',2814],['2017-03-10',2802],['2017-03-14',2796],['2017-03-15',2677],['2017-03-18',2648],['2017-03-21',2582],['2017-03-24',2552],['2017-03-30',2552],['2017-04-05',2546],['2017-04-07',2689],['2017-04-10',2695],['2017-04-13',2552],['2017-04-17',2558],['2017-04-20',2546],['2017-04-22',2511],['2017-04-25',2505],['2017-04-28',2499],['2017-05-01',2493],['2017-05-03',2332],['2017-05-07',2303],['2017-05-10',2297],['2017-05-13',2279],['2017-05-15',2249],['2017-05-17',2297],['2017-05-20',2321],['2017-05-22',2350],['2017-05-25',2362],['2017-05-29',2344],['2017-06-01',2309],['2017-06-03',2291],['2017-06-06',2303],['2017-06-09',2326],['2017-06-12',2344],['2017-06-14',2332],['2017-06-16',2350],['2017-06-19',2285],['2017-06-22',2291],['2017-06-24',2309],['2017-06-26',2255],['2017-07-04',2255],['2017-07-05',2326],['2017-07-08',2332],['2017-07-11',2350],['2017-07-13',2344],['2017-07-16',2386],['2017-07-19',2404],['2017-07-22',2398],['2017-07-25',2362],['2017-07-27',2332],['2017-07-28',2261],['2017-07-30',2285],['2017-08-02',2309],['2017-08-05',2326],['2017-08-07',2344],['2017-08-09',2398],['2017-08-12',2404],['2017-08-14',2386],['2017-08-16',2380],['2017-08-19',2398],['2017-08-20',2404],['2017-08-22',2451],['2017-08-25',2475],['2017-08-28',2481],['2017-08-29',2546],['2017-08-31',2654],['2017-09-03',2713],['2017-09-04',2749],['2017-09-06',2820],['2017-09-16',2826],['2017-09-17',2796],['2017-09-20',2784],['2017-09-23',2701],['2017-09-25',2689],['2017-09-28',2648],['2017-10-01',2689],['2017-10-04',2743],['2017-10-07',2773],['2017-10-10',2660],['2017-10-13',2654],['2017-10-15',2749],['2017-10-18',2743],['2017-10-21',2761],['2017-10-24',2761],['2017-10-26',2820],['2017-10-29',2808],['2017-11-01',2779],['2017-11-03',2808],['2017-11-06',2880],['2017-11-08',2939],['2017-11-11',2957],['2017-11-14',2975],['2017-11-17',2987],['2017-11-20',2975],['2017-11-21',3177],['2017-11-23',3189],['2017-11-25',3189],['2017-11-28',3118],['2017-11-30',3189],['2017-12-02',3261],['2017-12-04',3320],['2017-12-07',3314],['2017-12-10',3302],['2017-12-12',3308],['2017-12-14',3404],['2017-12-16',3415],['2017-12-19',3511],['2017-12-21',3529],['2017-12-23',3517],['2017-12-26',3415],['2017-12-27',3308],['2017-12-29',3207],['2018-01-01',3201],['2018-01-04',3255],['2018-01-05',3154],['2018-01-07',3148],['2018-01-12',3142],['2018-01-16',3148],['2018-01-18',3094],['2018-01-21',3070],['2018-01-24',3040],['2018-01-27',3011],['2018-01-29',2916],['2018-02-01',2904],['2018-02-04',2898],['2018-02-07',2808],['2018-02-11',2796],['2018-02-15',2784],['2018-02-19',2767],['2018-02-22',2737],['2018-02-24',2707],['2018-02-27',2689],['2018-03-01',2660],['2018-03-02',2642],['2018-03-04',2570],['2018-03-06',2499],['2018-03-07',2451],['2018-03-09',2481],['2018-03-11',2451],['2018-03-12',2451],['2018-03-14',2796],['2018-03-16',2844],['2018-03-18',2832],['2018-03-23',2844],['2018-03-25',2880],['2018-03-27',2880],['2018-03-29',2808],['2018-03-31',2802],['2018-04-03',2749],['2018-04-06',2737],['2018-04-10',2701],['2018-04-12',2761],['2018-04-13',2796],['2018-04-16',2796],['2018-04-18',2904],['2018-04-21',2999],['2018-04-23',3046],['2018-04-25',2951],['2018-04-27',2904],['2018-04-29',2904],['2018-05-02',2898],['2018-05-05',2904],['2018-05-08',2910],['2018-05-10',2999],['2018-05-13',3023],['2018-05-16',3118],['2018-05-19',3177],['2018-05-21',3154],['2018-05-23',3094],['2018-05-25',3023],['2018-05-28',2987],['2018-05-31',2975],['2018-06-03',2963],['2018-06-05',2884],['2018-06-07',2796],['2018-06-10',2844],['2018-06-12',2963],['2018-06-14',2844],['2018-06-17',2820],['2018-06-20',2796],['2018-06-23',2784],['2018-06-25',2749],['2018-06-28',2796],['2018-07-01',2796],['2018-07-04',2808],['2018-07-07',2927],['2018-07-10',2963],['2018-07-13',2892],['2018-07-16',2749],['2018-07-18',2749],['2018-07-19',2856],['2018-07-22',2880],['2018-07-26',2880],['2018-07-28',2832],['2018-07-30',2880],['2018-08-01',2892],['2018-08-04',2951],['2018-08-07',2999],['2018-08-10',2999],['2018-08-13',3011],['2018-08-15',3034],['2018-08-17',3034],['2018-08-19',3058],['2018-08-21',3034],['2018-08-23',3094],['2018-08-25',3052],['2018-08-28',3052],['2018-08-30',3106],['2018-09-02',3130],['2018-09-04',3154],['2018-09-06',3184],['2018-09-08',3184],['2018-09-10',3225],['2018-09-13',3273],['2018-09-15',3279],['2018-09-17',3290],['2018-09-19',3356],['2018-09-22',3356],['2018-09-25',3284],['2018-09-28',3284],['2018-10-02',3296],['2018-10-05',3302],['2018-10-08',3308],['2018-10-10',3404],['2018-10-12',3427],['2018-10-14',3404],['2018-10-16',3356],['2018-10-19',3350],['2018-10-22',3344],['2018-10-25',3296],['2018-10-27',3165],['2018-10-29',3046],['2018-11-01',3058],['2018-11-03',3130],['2018-11-05',2951],['2018-11-08',2951],['2018-11-11',2927],['2018-11-13',2904],['2018-11-16',2784],['2018-11-18',2761],['2018-11-21',2570],['2018-11-23',2451],['2018-11-25',2356],['2018-11-27',2451],['2018-11-29',2368],['2018-12-01',2321],['2018-12-04',2416],['2018-12-07',2440],['2018-12-09',2470],['2018-12-11',2374],['2018-12-13',2428],['2018-12-16',2440],['2018-12-18',2416],['2018-12-20',2398],['2018-12-22',2368],['2018-12-24',2309],['2018-12-27',2249],['2018-12-30',2243],['2019-01-01',2219],['2019-01-03',2199],['2019-01-06',2261],['2019-01-08',2300],['2019-01-11',2345],['2019-01-14',2340],['2019-01-16',2279],['2019-01-19',2236],['2019-01-22',2219],['2019-01-29',2219],['2019-02-06',2245],['2019-02-11',2339],['2019-02-15',2350],['2019-02-19',2402],['2019-02-23',2462],['2019-02-27',2523],['2019-03-03',2546],['2019-03-07',2558],['2019-03-09',2547],['2019-03-14',2586],['2019-03-17',2500],['2019-03-20',2445],['2019-03-24',2475],['2019-03-28',2383],['2019-03-31',2418],['2019-04-06',2480],['2019-04-10',2410],['2019-04-14',2380],['2019-04-18',2331],['2019-04-22',2326],['2019-04-24',2330],['2019-04-26',2274]];

const inlandProfit = [['2017-01-03',2957],['2017-01-04',2892],['2017-01-12',2886],['2017-01-16',2904],['2017-01-18',2939],['2017-01-22',2933],['2017-01-30',2937],['2017-02-05',2945],['2017-02-09',2957],['2017-02-12',2985],['2017-02-14',2975],['2017-02-16',2915],['2017-02-19',2898],['2017-02-22',2844],['2017-02-24',2826],['2017-02-27',2832],['2017-03-02',2808],['2017-03-08',2790],['2017-03-09',2725],['2017-03-13',2684],['2017-03-16',2707],['2017-03-19',2737],['2017-03-22',2746],['2017-03-26',2737],['2017-03-28',2689],['2017-04-04',2695],['2017-04-06',2743],['2017-04-10',2713],['2017-04-13',2684],['2017-04-17',2654],['2017-04-20',2570],['2017-04-24',2552],['2017-04-28',2564],['2017-05-03',2588],['2017-05-05',2535],['2017-05-08',2529],['2017-05-11',2475],['2017-05-14',2493],['2017-05-17',2546],['2017-05-20',2600],['2017-05-23',2636],['2017-05-26',2620],['2017-05-29',2606],['2017-06-03',2606],['2017-06-07',2541],['2017-06-12',2582],['2017-06-16',2535],['2017-06-21',2546],['2017-06-24',2499],['2017-06-28',2523],['2017-07-02',2564],['2017-07-07',2564],['2017-07-13',2600],['2017-07-16',2642],['2017-07-21',2713],['2017-07-25',2743],['2017-07-29',2713],['2017-08-01',2689],['2017-08-05',2725],['2017-08-10',2725],['2017-08-13',2767],['2017-08-16',2749],['2017-08-19',2785],['2017-08-23',2880],['2017-08-26',2886],['2017-08-29',2927],['2017-08-31',3023],['2017-09-03',3100],['2017-09-06',3023],['2017-09-08',2975],['2017-09-13',2981],['2017-09-15',2892],['2017-09-18',2868],['2017-09-22',2808],['2017-09-25',2850],['2017-09-29',2850],['2017-10-04',2862],['2017-10-10',2874],['2017-10-12',2850],['2017-10-13',2874],['2017-10-17',2904],['2017-10-19',2886],['2017-10-21',2910],['2017-10-25',2910],['2017-10-28',2880],['2017-10-31',2844],['2017-11-03',2850],['2017-11-05',2892],['2017-11-08',2957],['2017-11-11',2933],['2017-11-14',2910],['2017-11-17',2898],['2017-11-20',2898],['2017-11-23',2939],['2017-11-26',2910],['2017-12-01',2939],['2017-12-05',2904],['2017-12-09',2898],['2017-12-13',2922],['2017-12-17',2927],['2017-12-21',2939],['2017-12-26',2951],['2017-12-29',2969],['2018-01-03',2999],['2018-01-06',3023],['2018-01-10',3023],['2018-01-13',3046],['2018-01-15',3076],['2018-01-17',3040],['2018-01-21',3040],['2018-01-25',3046],['2018-01-29',3046],['2018-02-02',3023],['2018-02-07',3011],['2018-02-10',2963],['2018-02-13',2922],['2018-02-19',2922],['2018-02-27',2922],['2018-03-02',2927],['2018-03-05',2922],['2018-03-07',2856],['2018-03-09',2844],['2018-03-12',2796],['2018-03-15',2820],['2018-03-18',2820],['2018-03-22',2785],['2018-03-25',2761],['2018-03-28',2767],['2018-03-31',2785],['2018-04-03',2808],['2018-04-06',2826],['2018-04-09',2850],['2018-04-13',2868],['2018-04-17',2862],['2018-04-21',2880],['2018-04-24',2868],['2018-04-28',2886],['2018-05-02',2927],['2018-05-07',2957],['2018-05-10',2999],['2018-05-15',3005],['2018-05-18',2987],['2018-05-22',2985],['2018-05-25',2963],['2018-05-30',2945],['2018-06-03',2957],['2018-06-08',2963],['2018-06-12',2993],['2018-06-14',2957],['2018-06-18',2957],['2018-06-22',2910],['2018-06-26',2922],['2018-07-01',2927],['2018-07-04',2957],['2018-07-08',2945],['2018-07-13',2975],['2018-07-16',3005],['2018-07-21',3011],['2018-07-22',3023],['2018-07-25',3046],['2018-07-30',3058],['2018-08-02',3112],['2018-08-05',3160],['2018-08-08',3189],['2018-08-13',3195],['2018-08-16',3177],['2018-08-21',3148],['2018-08-25',3130],['2018-08-28',3124],['2018-08-31',3130],['2018-09-05',3124],['2018-09-09',3148],['2018-09-12',3165],['2018-09-15',3184],['2018-09-18',3243],['2018-09-20',3356],['2018-09-25',3356],['2018-09-28',3362],['2018-10-03',3374],['2018-10-07',3386],['2018-10-09',3475],['2018-10-12',3463],['2018-10-15',3451],['2018-10-18',3392],['2018-10-21',3386],['2018-10-24',3344],['2018-10-27',3308],['2018-10-30',3267],['2018-11-03',3249],['2018-11-06',3255],['2018-11-09',3243],['2018-11-12',3201],['2018-11-14',3118],['2018-11-18',3106],['2018-11-21',3070],['2018-11-24',2951],['2018-11-27',2850],['2018-11-30',2856],['2018-12-02',2880],['2018-12-05',3034],['2018-12-08',3035],['2018-12-11',3011],['2018-12-13',2927],['2018-12-14',2904],['2018-12-18',2939],['2018-12-21',2904],['2018-12-24',2886],['2018-12-27',2904],['2018-12-28',2910],['2019-01-02',2910],['2019-01-05',2927],['2019-01-08',2939],['2019-01-11',2945],['2019-01-14',2939],['2019-01-16',2927],['2019-01-19',2922],['2019-01-23',2922],['2019-01-26',2906],['2019-01-29',2910],['2019-02-01',2890],['2019-02-06',2883],['2019-02-11',2874],['2019-02-13',2785],['2019-02-17',2782],['2019-02-19',2814],['2019-02-23',2802],['2019-02-26',2790],['2019-03-01',2808],['2019-03-05',2862],['2019-03-08',2820],['2019-03-12',2820],['2019-03-16',2802],['2019-03-18',2779],['2019-03-22',2785],['2019-03-26',2785],['2019-03-28',2755],['2019-03-31',2785],['2019-04-03',2820],['2019-04-07',2832],['2019-04-09',2850],['2019-04-13',2838],['2019-04-16',2802],['2019-04-19',2785],['2019-04-22',2782],['2019-04-26',2767]];

const seriesData = [inlandCost, coastalProfit, importCost, futuresPrice, benchmarkSpot, lowestSpot, inlandProfit];

// daily category axis
const categories = [];
(function(){
  const p = s => { const a = s.split('-').map(Number); return Date.UTC(a[0], a[1]-1, a[2]); };
  for (let t = p(firstDay); t <= p(lastDay); t += 86400000) categories.push(new Date(t).toISOString().slice(0,10));
})();
const catSet = new Set(categories);
const isTickDay = (i, v) => typeof v === 'string' && v.slice(8) === '03';

const chart = echarts.init(document.getElementById('c'), null, {renderer: 'canvas'});
chart.setOption({
  animation: false,
  backgroundColor: '#ffffff',
  grid: {left: 91, right: 21, top: 91, bottom: 173, containLabel: false},
  legend: {
    data: seriesNames,
    left: 186, top: 909, padding: 0,
    itemWidth: 52, itemHeight: 6, itemGap: 29.5,
    icon: 'roundRect',
    textStyle: {fontSize: 20, color: '#595959', fontFamily: 'Noto Sans CJK SC'}
  },
  graphic: [
    {type: 'rect', shape: {x: 10.5, y: 9.5, width: 1500, height: 960}, style: {fill: 'none', stroke: '#d9d9d9', lineWidth: 1}, silent: true},
    {type: 'text', x: 18, y: 9, style: {text: '1、价格波动区间', font: 'bold 30px "Noto Sans CJK SC"', fill: '#000', textVerticalAlign: 'bottom'}, silent: true},
    {type: 'text', x: 751, y: 45, style: {text: '成本-利润-价格', font: 'bold 24px "Noto Sans CJK SC"', fill: '#000', textAlign: 'center', textVerticalAlign: 'middle'}, silent: true}
  ],
  xAxis: {
    type: 'category',
    data: categories,
    boundaryGap: false,
    axisLine: {lineStyle: {color: '#d9d9d9', width: 1}},
    axisTick: {show: true, interval: isTickDay, length: 6, lineStyle: {color: '#d9d9d9'}},
    axisLabel: {interval: isTickDay, rotate: 90, margin: 12, fontSize: 18, color: '#000', fontFamily: 'Liberation Sans'},
    splitLine: {show: false}
  },
  yAxis: {
    type: 'value',
    min: yTicks.min, max: yTicks.max, interval: yTicks.step,
    axisLine: {show: false}, axisTick: {show: false},
    axisLabel: {fontSize: 18, color: '#000', margin: 24, fontFamily: 'Liberation Sans', formatter: v => String(v)},
    splitLine: {lineStyle: {color: '#d9d9d9', width: 1}}
  },
  series: seriesNames.map((name, k) => ({
    name,
    type: 'line',
    data: seriesData[k].filter(d => catSet.has(d[0])).sort((a, b) => a[0] < b[0] ? -1 : a[0] > b[0] ? 1 : 0),
    showSymbol: false,
    symbol: 'none',
    color: seriesColors[k],
    lineStyle: {width: 3.5, color: seriesColors[k], cap: 'round', join: 'round'},
    silent: true
  }))
});
</script></body></html>
